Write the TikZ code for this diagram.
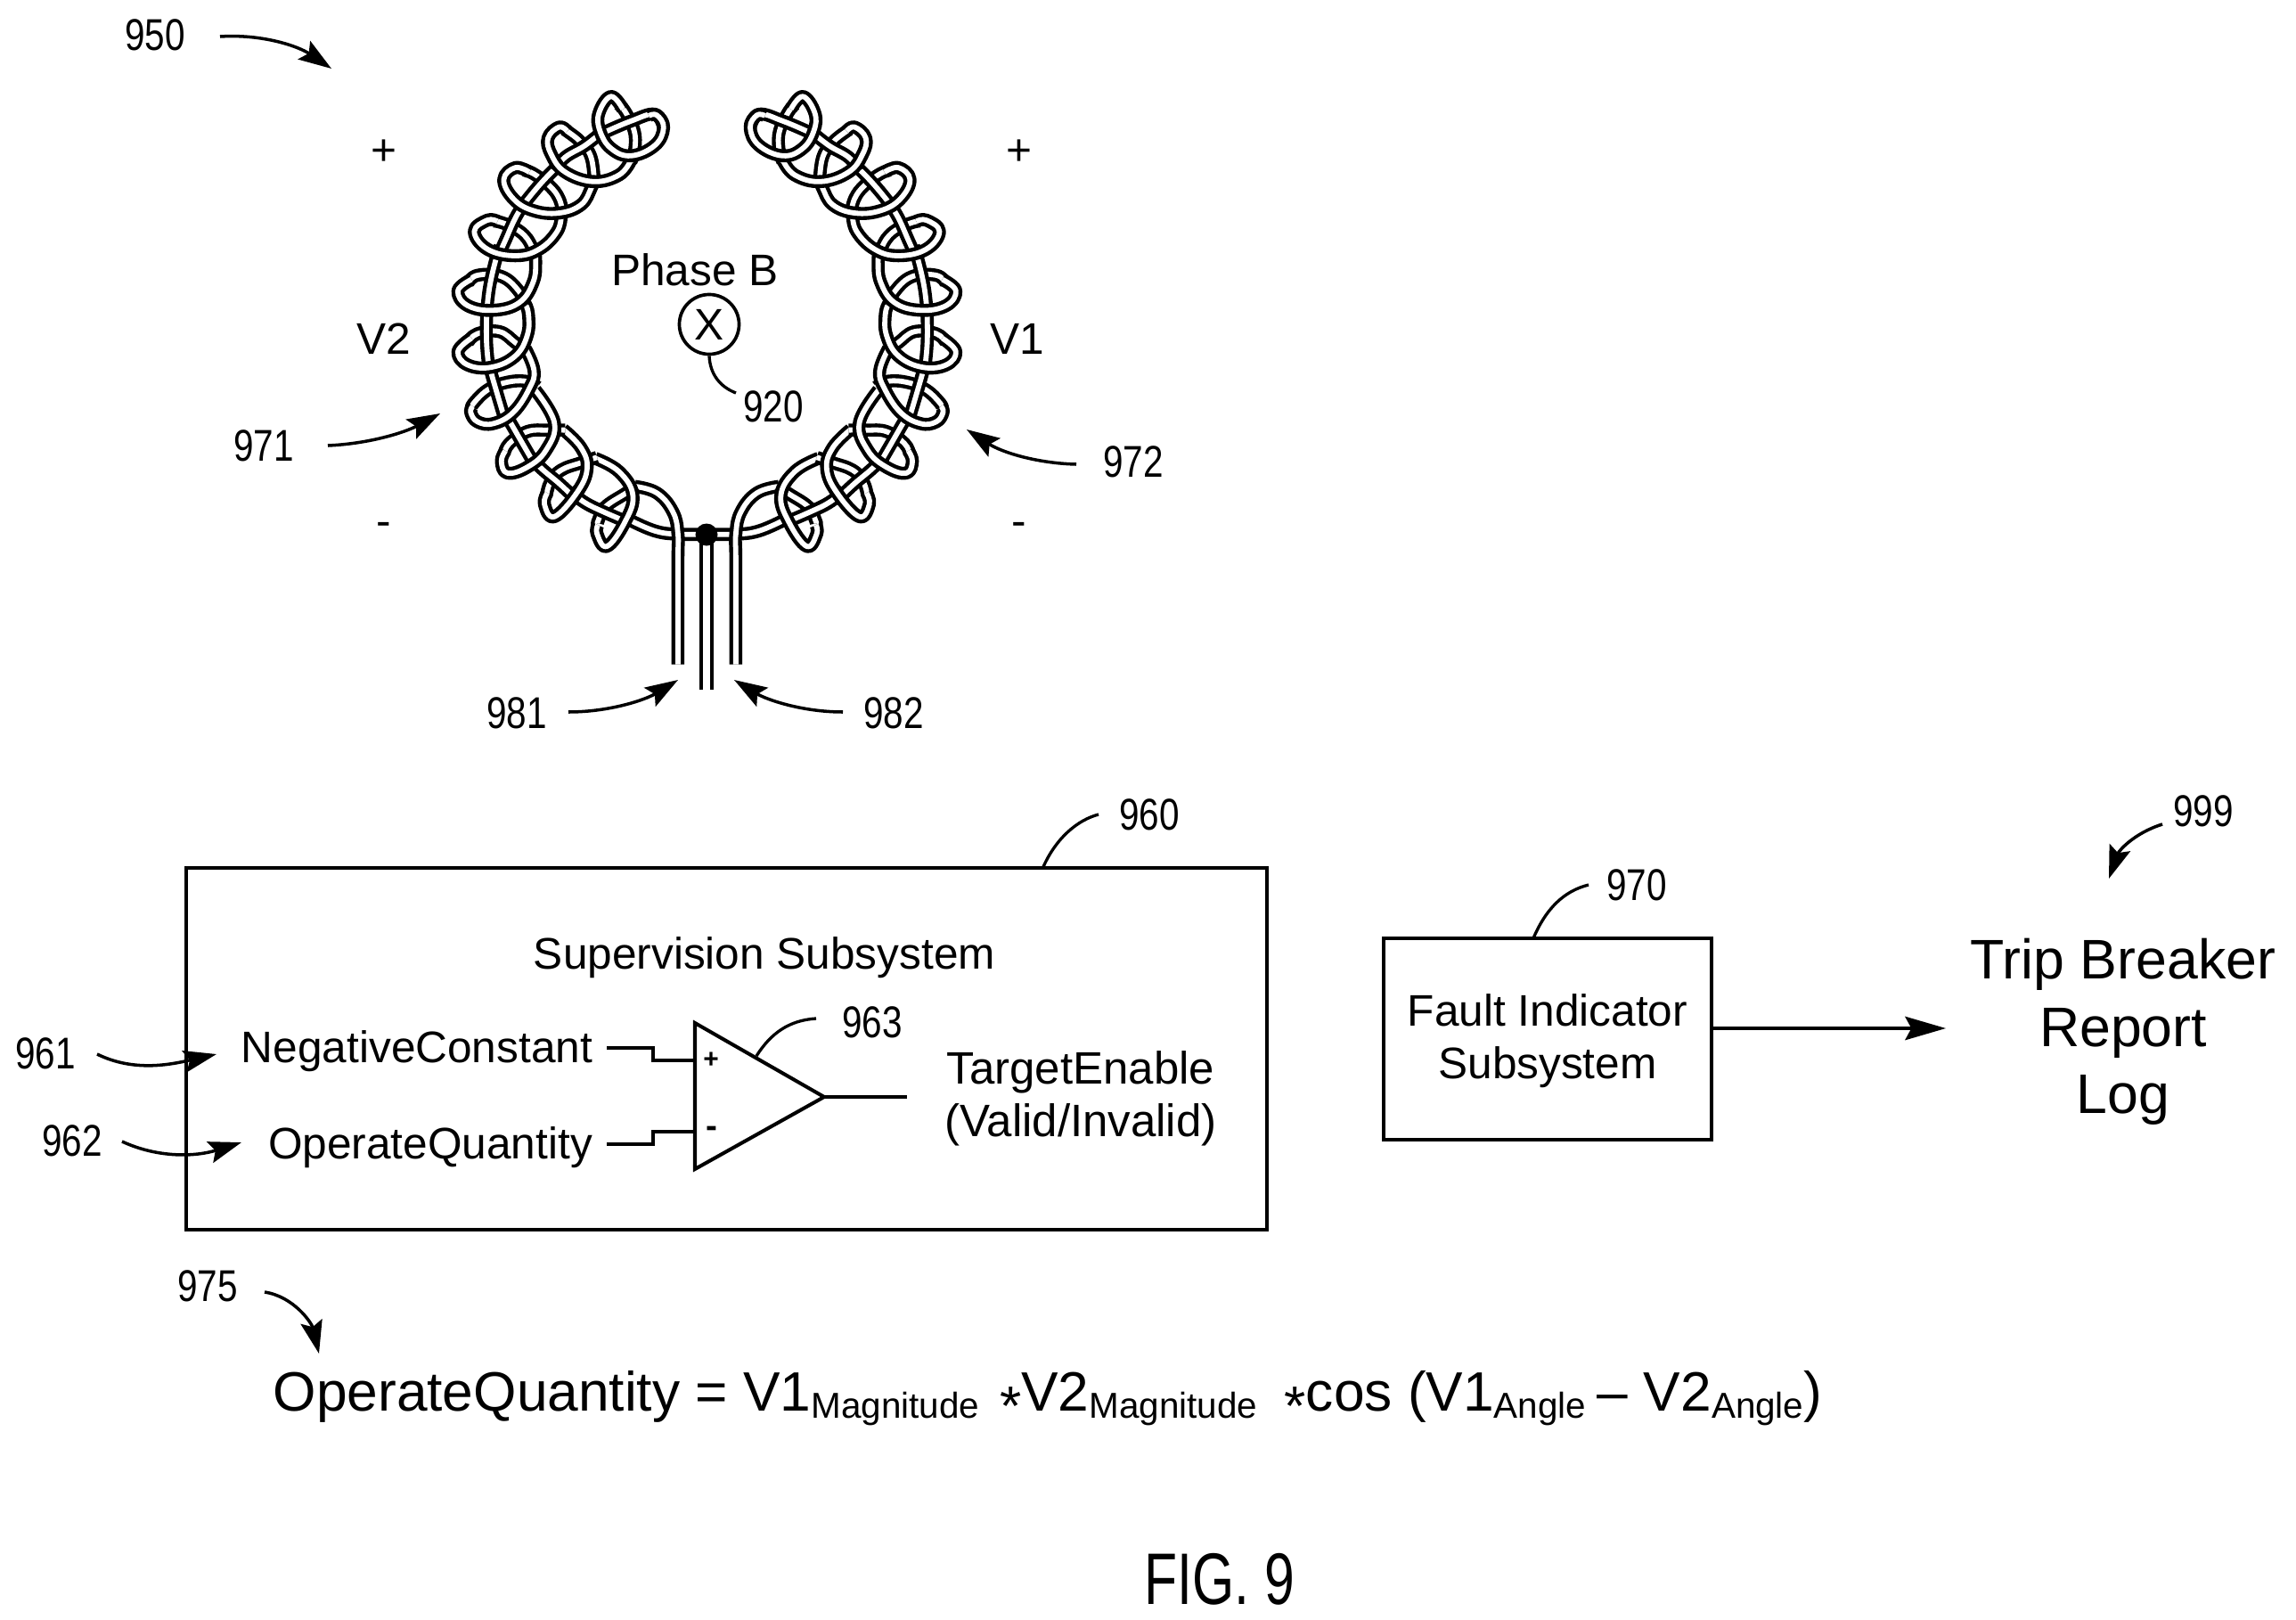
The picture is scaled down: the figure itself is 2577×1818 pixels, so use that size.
\documentclass[tikz,border=0pt]{standalone}
\usepackage{fontspec}
\setmainfont{Liberation Sans}
\usetikzlibrary{arrows.meta}
\newcommand{\fsA}{\fontsize{14.1}{16}\selectfont}
\newcommand{\fsB}{\fontsize{17.8}{21}\selectfont}
\newcommand{\nm}[1]{\scalebox{.81}[1]{\fontsize{14.2}{16}\selectfont #1}}
\tikzset{
  strand/.style={line width=1.25pt,double=white,double distance=1.65pt,line cap=butt,line join=round},
  lbl/.style={inner sep=0pt,align=center,font=\fsA},
  big/.style={inner sep=0pt,align=center,font=\fsB},
  boxline/.style={draw,line width=1.15pt,line join=miter},
  wireline/.style={line width=1.1pt,line join=miter},
  leader/.style={line width=.95pt},
  arrowline/.style={line width=1pt,-{Stealth[length=10.5pt,width=7pt,inset=1.8pt]}}
}
\newcommand{\sd}[1]{\draw[strand] plot[smooth,tension=.7] coordinates {#1};}
\newcommand{\halfcoil}{%
 \begin{scope}[shift={(0,1020)}]
  \sd{(505,552)(570,590)(628,601)(702,601)}
  \sd{(520,440)(575,462)(615,525)(628,600)(628,700)(628,1040)}
  \sd{(525,440)(495,465)(445,510)(428,555)(426,565)}
  \sd{(497,558)(440,525)(395,495)(355,455)}
  \sd{(427,570)(425,600)(450,642)(495,560)(515,470)(480,390)(420,345)}
  \sd{(425,342)(385,360)(335,385)(308,425)(298,470)}
  \sd{(368,478)(330,430)(290,385)(255,340)}
  \sd{(300,462)(293,500)(318,542)(375,460)(400,380)(385,310)(340,248)}
  \sd{(345,250)(300,250)(250,255)(205,295)(192,330)}
  \sd{(265,358)(240,300)(210,230)(190,185)}
  \sd{(195,320)(185,355)(200,395)(250,375)(297,318)(318,225)(270,115)}
  \sd{(275,105)(245,85)(195,90)(150,115)(115,160)(110,178)}
  \sd{(195,220)(175,130)(158,50)(153,15)}
  \sd{(113,170)(108,190)(125,222)(165,228)(215,190)(255,110)(267,50)(245,-25)}
 \end{scope}
 \sd{(245,1000)(220,975)(180,938)(125,945)(100,975)}
 \sd{(155,1075)(148,980)(148,880)(150,850)}
 \sd{(110,960)(76,1005)(100,1050)(160,1058)(220,1020)(250,950)(253,880)(245,845)}
 \sd{(245,850)(228,800)(185,752)(125,748)(100,775)}
 \sd{(148,875)(155,790)(170,700)(182,650)}
 \sd{(110,762)(76,800)(100,850)(165,866)(230,840)(265,770)(271,700)(268,672)}
 \sd{(270,680)(250,625)(220,590)(185,570)(165,565)}
 \sd{(175,690)(195,630)(220,555)(245,500)}
 \sd{(175,566)(150,562)(117,600)(150,660)(220,682)(280,660)(325,600)(335,545)}
 \sd{(340,545)(330,490)(305,445)(265,405)(240,393)}
 \sd{(240,510)(270,460)(300,415)(330,375)}
 \sd{(255,400)(220,385)(191,425)(215,490)(265,530)(330,538)(385,510)(410,455)(418,425)}
 \sd{(418,430)(410,350)(385,300)(350,262)(340,255)}
 \sd{(318,395)(345,350)(395,310)(440,262)}
 \sd{(350,262)(330,248)(302,285)(310,340)(345,400)(415,432)(480,410)(510,360)}
 \sd{(510,365)(520,320)(518,260)(495,195)(478,170)}
 \sd{(592,250)(570,205)(510,228)(440,268)}
 \sd{(490,188)(460,145)(430,200)(432,260)(460,320)(510,345)(570,310)(592,250)(575,208)(555,210)}
}
\newcommand{\esub}[1]{\raisebox{-.25ex}{\fontsize{11.5}{12}\selectfont #1}}
\newcommand{\estar}[1]{\makebox[#1][r]{\raisebox{-.26em}{*}}}
\begin{document}
\begin{tikzpicture}[x=.01cm,y=-.01cm]
\useasboundingbox (0,0) rectangle (2577,1818);
% coil
\draw[strand,line width=1pt,double distance=2.4pt] (793,605) -- (793,774);
\begin{scope}[shift={(480,60)},x=.004464cm,y=-.003333cm]
 \halfcoil
\end{scope}
\begin{scope}[shift={(1106.8,60)},x=-.004464cm,y=-.003333cm]
 \halfcoil
\end{scope}
\fill (793,600) circle (12.5);
% coil labels
\node[lbl] (n950) at (174,39) {\nm{950}};
\coordinate (a950) at (247,41); \coordinate (b950) at (372,77);
\draw[arrowline] (a950) .. controls (295,38) and (335,52) .. (b950);
\node[lbl] (plusL) at (431,171) {+};
\node[lbl] (plusR) at (1144,171) {+};
\node[lbl] (minusL) at (431,594) {-};
\node[lbl] (minusR) at (1144,594) {-};
\node[lbl] (phase) at (780,303) {Phase B};
\node[draw,circle,line width=1.05pt,minimum size=67*.2845pt,inner sep=0pt,font=\fsA] (xc) at (796,364) {X};
\node[lbl] (n920) at (868,456) {\nm{920}};
\coordinate (e920) at (826,441);
\draw[leader] (xc.south) .. controls (797,420) and (808,434) .. (e920);
\node[lbl] (V2) at (431,380) {V2};
\node[lbl] (V1) at (1142,380) {V1};
\node[lbl] (n971) at (296,500) {\nm{971}};
\coordinate (a971) at (368,500); \coordinate (b971) at (494,464);
\draw[arrowline] (a971) .. controls (415,498) and (455,485) .. (b971);
\node[lbl] (n972) at (1272,518) {\nm{972}};
\coordinate (a972) at (1208,521); \coordinate (b972) at (1085,482);
\draw[arrowline] (a972) .. controls (1165,520) and (1125,508) .. (b972);
\node[lbl] (n981) at (580,800) {\nm{981}};
\coordinate (a981) at (638,799); \coordinate (b981) at (761,763);
\draw[arrowline] (a981) .. controls (685,799) and (725,785) .. (b981);
\node[lbl] (n982) at (1003,800) {\nm{982}};
\coordinate (a982) at (946,799); \coordinate (b982) at (824,763);
\draw[arrowline] (a982) .. controls (900,799) and (860,785) .. (b982);
% supervision
\node[boxline,minimum width=1213*.2845pt,minimum height=405*.2845pt,inner sep=0pt] (sup) at (815.5,1177) {};
\node[lbl] (n960) at (1290,914) {\nm{960}};
\coordinate (e960) at (1233,914); \coordinate (s960) at (1170,975);
\draw[leader] (s960) .. controls (1185,940) and (1210,920) .. (e960);
\node[lbl] (suptitle) at (858,1075) {Supervision Subsystem};
\node[lbl] (neg) at (468,1180) {NegativeConstant};
\node[lbl] (opq) at (483,1288) {OperateQuantity};
\node[lbl] (n961) at (51,1182) {\nm{961}};
\node[lbl] (n962) at (81,1280) {\nm{962}};
\coordinate (a961) at (109,1183); \coordinate (b961) at (243,1183);
\draw[arrowline] (a961) .. controls (150,1203) and (190,1195) .. (b961);
\coordinate (a962) at (137,1281); \coordinate (b962) at (271,1282);
\draw[arrowline] (a962) .. controls (178,1300) and (220,1298) .. (b962);
\coordinate (oa) at (780,1148); \coordinate (ob) at (780,1312); \coordinate (oc) at (925,1231);
\draw[line width=1.15pt,line join=miter] (oa) -- (oc) -- (ob) -- cycle;
\node[inner sep=0pt,font=\fontsize{8.5}{10}\selectfont\bfseries] (op) at (798,1190) {+};
\node[inner sep=0pt,font=\fontsize{11}{12}\selectfont\bfseries] (om) at (799,1270) {-};
\coordinate (w1) at (681,1176); \coordinate (w2) at (780,1190);
\coordinate (w3) at (681,1284); \coordinate (w4) at (780,1270);
\coordinate (out) at (1018,1231);
\draw[wireline] (w1) -- (733,1176) -- (733,1190) -- (w2);
\draw[wireline] (w3) -- (733,1284) -- (733,1270) -- (w4);
\draw[wireline] (oc) -- (out);
\node[lbl] (n963) at (979,1147) {\nm{963}};
\coordinate (s963) at (849,1185); \coordinate (e963) at (916,1143);
\draw[leader] (s963) .. controls (865,1160) and (885,1145) .. (e963);
\node[lbl,font=\fontsize{14.5}{16}\selectfont] (target) at (1213,1233) {TargetEnable\\[.8pt](Valid/Invalid)};
% fault
\node[boxline,minimum width=368*.2845pt,minimum height=226*.2845pt,inner sep=0pt] (fault) at (1737,1166) {};
\node[lbl] (faulttxt) at (1737,1168) {Fault Indicator\\[.8pt]Subsystem};
\node[lbl] (n970) at (1837,993) {\nm{970}};
\coordinate (s970) at (1721,1053); \coordinate (e970) at (1783,993);
\draw[leader] (s970) .. controls (1735,1020) and (1755,1000) .. (e970);
\coordinate (trip) at (2184,1154);
\draw[arrowline,-{Stealth[length=13pt,width=7.5pt,inset=2pt]}] (fault.east |- trip) -- (trip);
\node[big] (tripT) at (2383,1158) {Trip Breaker\\[.5pt]Report\\[.5pt]Log};
\node[lbl] (n999) at (2473,910) {\nm{999}};
\coordinate (a999) at (2427,925); \coordinate (b999) at (2367,986);
\draw[arrowline] (a999) .. controls (2395,935) and (2378,955) .. (b999);
% equation
\node[lbl] (n975) at (233,1443) {\nm{975}};
\coordinate (a975) at (297,1450); \coordinate (b975) at (358,1519);
\draw[arrowline] (a975) .. controls (330,1455) and (350,1485) .. (b975);
\node[inner sep=0pt,font=\fontsize{17.7}{21}\selectfont,anchor=base west] (eq) at (306,1583) {OperateQuantity = V1\esub{Magnitude}\estar{13.4pt}V2\esub{Magnitude}\estar{15.5pt}cos (V1\esub{Angle}\kern3.5pt–\kern5pt V2\esub{Angle})};
\node[inner sep=0pt] (fig) at (1369,1772) {\scalebox{.74}[1]{\fontsize{23.3}{26}\selectfont FIG. 9}};
\end{tikzpicture}
\end{document}
